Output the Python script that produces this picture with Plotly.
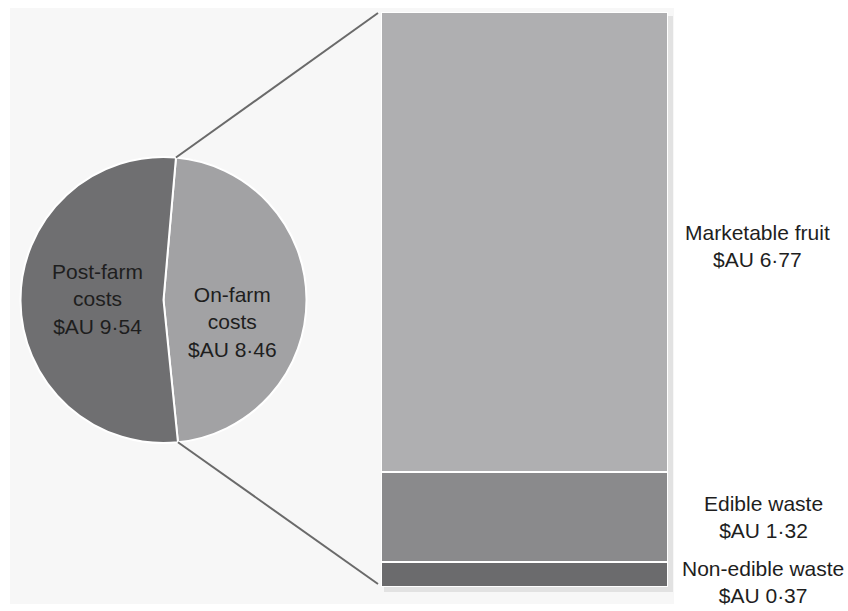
import math
import plotly.graph_objects as go

# ---- data ----
pie_labels = ["On-farm costs", "Post-farm costs"]
pie_values = [8.46, 9.54]
pie_text = ["On-farm<br>costs<br>$AU 8·46", "Post-farm<br>costs<br>$AU 9·54"]

bar_labels = ["Non-edible waste", "Edible waste", "Marketable fruit"]
bar_values = [0.37, 1.32, 6.77]
bar_text = ["Non-edible waste<br>$AU 0·37", "Edible waste<br>$AU 1·32", "Marketable fruit<br>$AU 6·77"]

# ---- styles ----
W, H = 848, 611
FONT = "Liberation Sans, Arial, sans-serif"
TXT = "#1e1e1e"
pie_colors = ["#a2a2a4", "#6f6f71"]
bar_colors = ["#6b6b6d", "#8a8a8c", "#afafb1"]

cx, cy, r = 163.5, 300.0, 143.0           # pie centre / radius (px)
rotation = 5
bl, br, bt, bb = 381.0, 668.0, 12.0, 587.0  # bar box (px)


def px(x):
    return x / W


def py(y):
    return 1 - y / H


fig = go.Figure()

fig.add_trace(go.Pie(
    labels=pie_labels, values=pie_values, sort=False, direction="clockwise",
    rotation=rotation, textinfo="none", hoverinfo="label+value",
    marker=dict(colors=pie_colors, line=dict(color="white", width=2)),
    domain=dict(x=[px(cx - r), px(cx + r)], y=[py(cy + r), py(cy - r)]),
    showlegend=False,
))

for lab, val, col in zip(bar_labels, bar_values, bar_colors):
    fig.add_trace(go.Bar(
        x=[0], y=[val], width=1, name=lab, marker=dict(color=col, line=dict(color="white", width=2)),
        showlegend=False, hoverinfo="name+y",
    ))

total_bar = sum(bar_values)
pie_total = sum(pie_values)

shapes = [
    dict(type="rect", xref="paper", yref="paper", x0=px(10), x1=px(674), y0=py(604), y1=py(8),
         fillcolor="#f7f7f7", line=dict(width=0), layer="below"),
    dict(type="rect", xref="paper", yref="paper", x0=px(bl + 3), x1=px(br + 5), y0=py(bb + 5), y1=py(bt + 4),
         fillcolor="#e2e2e2", line=dict(width=0), layer="below"),
]

# connector lines from the on-farm slice edges to the bar corners
a_top = math.radians(rotation)
a_bot = math.radians(rotation + 360 * pie_values[0] / pie_total)
for a, ty in [(a_top, bt + 1), (a_bot, bb - 3)]:
    x0 = cx + r * math.sin(a)
    y0 = cy - r * math.cos(a)
    shapes.append(dict(type="line", xref="paper", yref="paper", x0=px(x0), y0=py(y0),
                       x1=px(bl - 3), y1=py(ty), line=dict(color="#6a6a6a", width=2), layer="above"))

annotations = []
# pie labels
pie_pos = [(232, 322), (97, 299)]
for t, (x, y) in zip(pie_text, pie_pos):
    annotations.append(dict(text=t, x=px(x), y=py(y), xref="paper", yref="paper", showarrow=False,
                            xanchor="center", yanchor="middle", font=dict(family=FONT, size=21, color=TXT)))

# bar labels
cum = 0
label_x = [763, 763, 757]
label_shift = [-8, 0, -4]
for t, v, lx, sh in zip(bar_text, bar_values, label_x, label_shift):
    mid = cum + v / 2
    cum += v
    annotations.append(dict(text=t, x=px(lx), y=mid, xref="paper", yref="y", yshift=sh, showarrow=False,
                            xanchor="center", yanchor="middle", font=dict(family=FONT, size=21, color=TXT)))

fig.update_layout(
    width=W, height=H, margin=dict(l=0, r=0, t=0, b=0),
    paper_bgcolor="white", plot_bgcolor="rgba(0,0,0,0)",
    barmode="stack", bargap=0,
    xaxis=dict(domain=[px(bl), px(br)], range=[-0.5, 0.5], visible=False, fixedrange=True),
    yaxis=dict(domain=[py(bb), py(bt)], range=[0, total_bar], visible=False, fixedrange=True),
    shapes=shapes, annotations=annotations,
)

fig.write_html("out.html")
